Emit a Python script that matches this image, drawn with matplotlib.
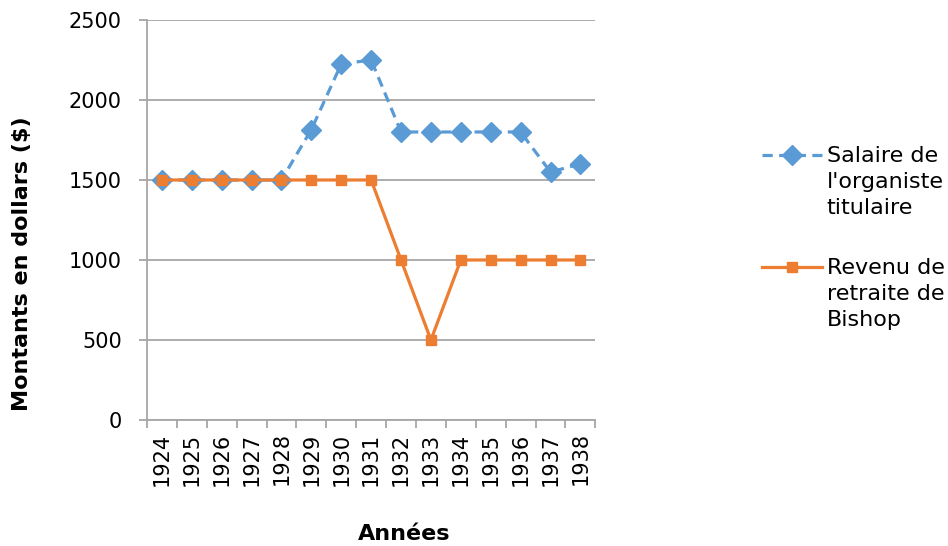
import numpy as np
import matplotlib
matplotlib.use("Agg")
import matplotlib.pyplot as plt
from matplotlib.legend_handler import HandlerLine2D

# data
annees = ['1924', '1925', '1926', '1927', '1928', '1929', '1930', '1931',
          '1932', '1933', '1934', '1935', '1936', '1937', '1938']
salaire_organiste = [1500, 1500, 1500, 1500, 1500, 1815, 2225, 2250,
                     1800, 1800, 1800, 1800, 1800, 1550, 1600]
revenu_bishop = [1500, 1500, 1500, 1500, 1500, 1500, 1500, 1500,
                 1000, 500, 1000, 1000, 1000, 1000, 1000]
labels = ["Salaire de\nl'organiste\ntitulaire", "Revenu de\nretraite de\nBishop"]

BLUE = '#5B9BD5'
ORANGE = '#ED7D31'
GRID = '#A6A6A6'
FS = 15
LEG_FS = 16


class HandlerTopLine(HandlerLine2D):
    # put the legend line next to the first line of a multi-line label
    def create_artists(self, legend, orig_handle, xdescent, ydescent,
                       width, height, fontsize, trans):
        shift = 1.24 * fontsize
        return super().create_artists(legend, orig_handle, xdescent,
                                      ydescent - 2 * shift, width, height,
                                      fontsize, trans)


plt.rc('font', family='DejaVu Sans', size=FS)

fig = plt.figure(figsize=(9.48, 5.46), dpi=100)
ax = fig.add_axes([0.155, 0.2308, 0.473, 0.7326])

x = np.arange(len(annees))
l1, = ax.plot(x, salaire_organiste, color=BLUE, linewidth=2.3, dashes=(3.2, 2),
              marker='D', markersize=10.5, label=labels[0])
l2, = ax.plot(x, revenu_bishop, color=ORANGE, linewidth=2.3,
              marker='s', markersize=7, label=labels[1])

ax.set_xlim(-0.5, len(annees) - 0.5)
ax.set_ylim(0, 2500)
ax.set_yticks(np.arange(0, 2501, 500))
ax.yaxis.grid(True, color=GRID, linewidth=1.3)
ax.set_axisbelow(True)

# category ticks between the columns, labels at the centres
ax.set_xticks(np.arange(-0.5, len(annees), 1.0))
ax.set_xticklabels([])
ax.set_xticks(x, minor=True)
ax.set_xticklabels(annees, minor=True, rotation=90)
ax.tick_params(axis='x', which='major', length=6, color=GRID, width=1.3)
ax.tick_params(axis='x', which='minor', length=0, pad=9)
ax.tick_params(axis='y', length=6, color=GRID, width=1.3, pad=12)

for s in ['top', 'right']:
    ax.spines[s].set_visible(False)
for s in ['left', 'bottom']:
    ax.spines[s].set_color(GRID)
    ax.spines[s].set_linewidth(1.3)

ax.set_ylabel('Montants en dollars ($)', fontweight='bold', fontsize=16)
ax.yaxis.set_label_coords(-0.257, 0.39)
ax.set_xlabel('Années', fontweight='bold', fontsize=16)
ax.xaxis.set_label_coords(0.574, -0.26)

leg = fig.legend(handles=[l1, l2], loc='upper left', bbox_to_anchor=(0.783, 0.769),
                 frameon=False, handlelength=2.7, handletextpad=0.2,
                 labelspacing=1.8, fontsize=LEG_FS,
                 handler_map={l1: HandlerTopLine(), l2: HandlerTopLine()})
for t in leg.get_texts():
    t.set_linespacing(1.38)

fig.savefig('out.png', dpi=100)
